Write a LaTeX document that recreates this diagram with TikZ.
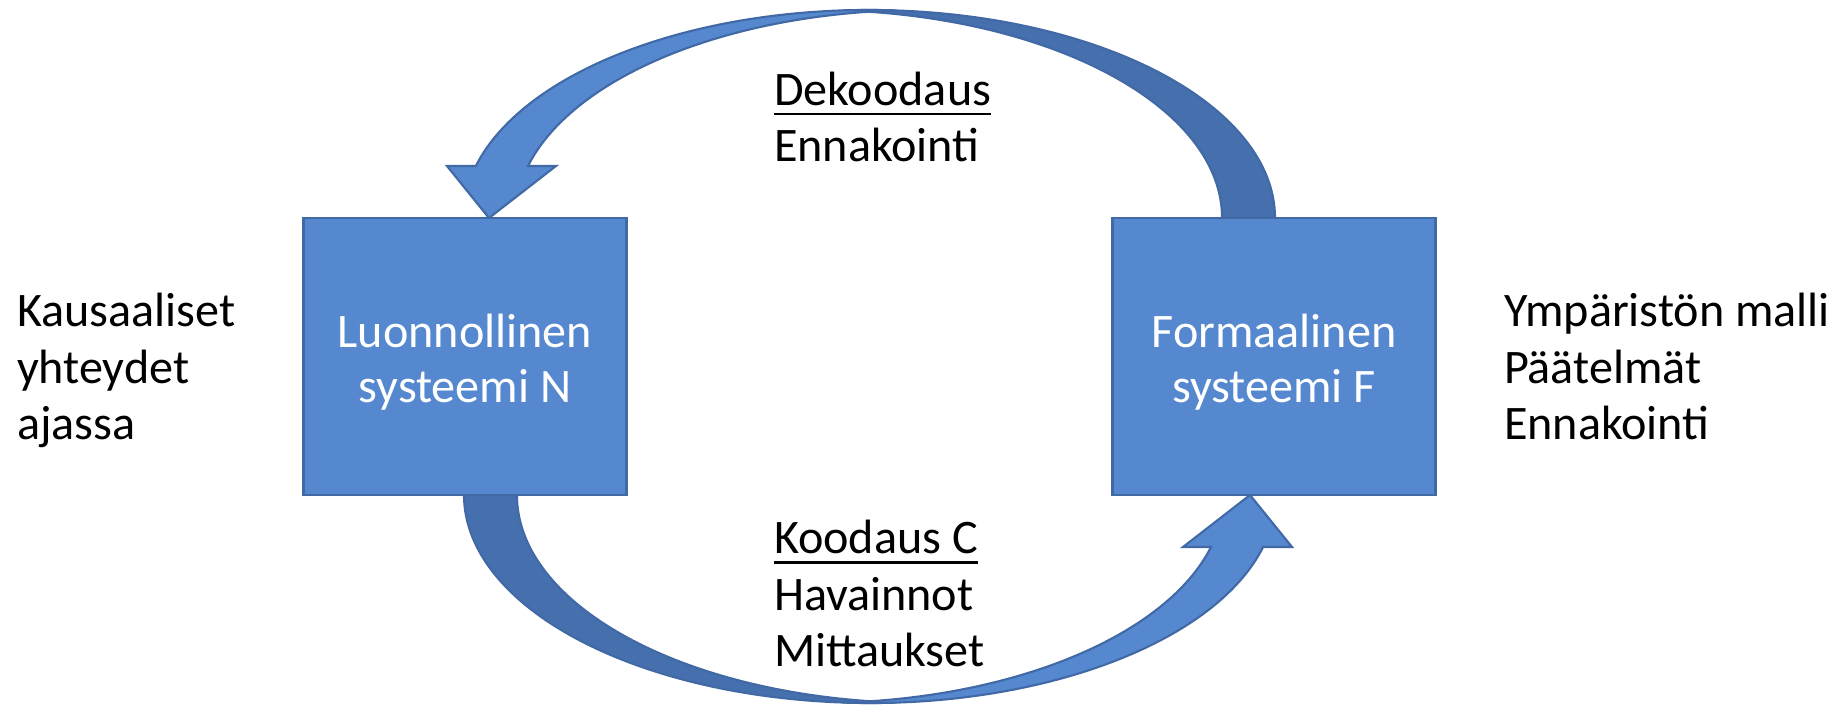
\documentclass[tikz,border=0pt]{standalone}
\usepackage{fontspec}
\setmainfont{Carlito}
\definecolor{boxblue}{RGB}{85,136,207}
\definecolor{backblue}{RGB}{69,111,173}
\definecolor{edgeblue}{RGB}{65,105,165}
% underlined heading
\newcommand{\ulined}[1]{\setbox0\hbox{#1}\rlap{\rule[-2.95pt]{\wd0}{0.8pt}}\box0}
% one curved block arrow, tail on the right, head on the left
\newcommand{\loopband}{%
\filldraw[bandback] (12.75,4.86) arc[start angle=0,end angle=93.74,x radius=4.06,y radius=2.08]
  arc[start angle=86.26,end angle=0,x radius=4.06,y radius=2.08] -- cycle;
\filldraw[bandfront] (8.95,6.936) arc[start angle=86.32,end angle=165.52,x radius=4.06,y radius=2.08]
  -- (4.47,5.38) -- (4.89,4.86) -- (5.56,5.38) -- (5.28,5.38)
  arc[start angle=165.52,end angle=93.68,x radius=4.06,y radius=2.08] -- cycle;
}
\begin{document}
\begin{tikzpicture}[inner sep=0pt,outer sep=0pt,
every node/.style={font=\fontsize{13.7}{16.1}\selectfont},
sysbox/.style={draw=edgeblue,fill=boxblue,line width=0.6pt,minimum width=3.23cm,minimum height=2.77cm,
  text=white,align=center,font=\fontsize{13.7}{15.6}\selectfont},
bandback/.style={draw=edgeblue,fill=backblue,line width=0.6pt},
bandfront/.style={draw=edgeblue,fill=boxblue,line width=0.6pt},
note/.style={align=left,anchor=base west}]
\useasboundingbox (0,0) rectangle (18.47,7.04);
\loopband
\begin{scope}[rotate around={180:(8.695,3.475)}]
\loopband
\end{scope}
\draw (4.65,3.475) node[sysbox] (N) {\rule{0pt}{0.44cm}Luonnollinen\\systeemi N};
\draw (12.74,3.475) node[sysbox] (F) {\rule{0pt}{0.44cm}Formaalinen\\systeemi F};
% base anchor = last line
\draw (7.74,5.423) node[note] (dec) {\ulined{Dekoodaus}\\Ennakointi};
\draw (7.74,0.373) node[note] (enc) {\ulined{Koodaus C}\\Havainnot\\Mittaukset};
\draw (0.17,2.64) node[note] (caus) {Kausaaliset\\yhteydet\\ajassa};
\draw (15.04,2.64) node[note] (model) {Ympäristön malli\\Päätelmät\\Ennakointi};
\end{tikzpicture}
\end{document}
